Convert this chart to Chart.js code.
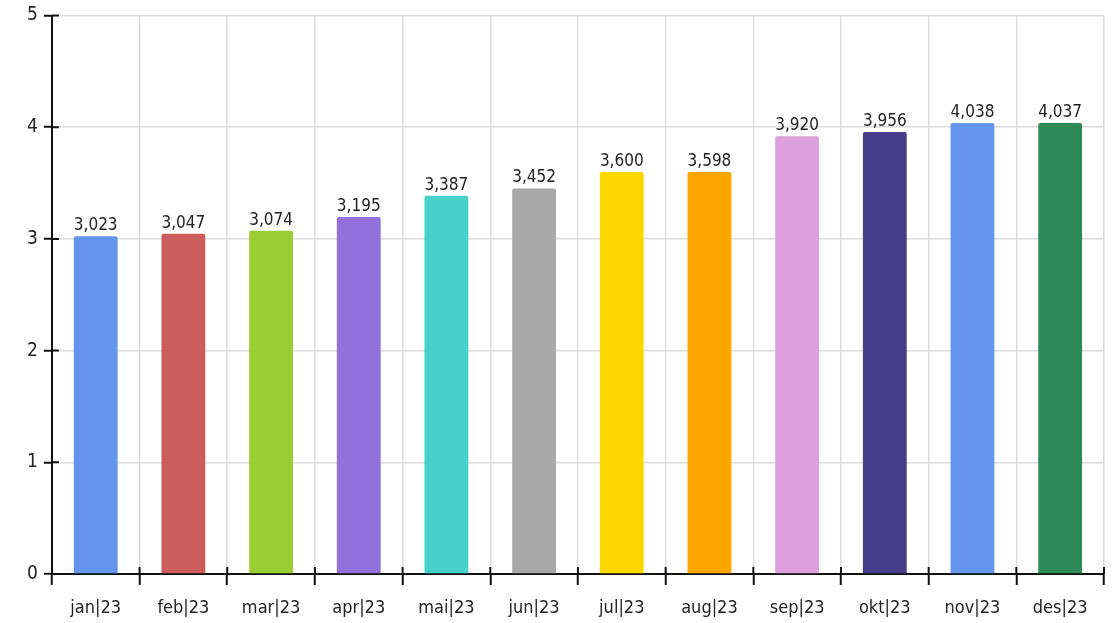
<!DOCTYPE html>
<html>
<head>
<meta charset="utf-8">
<script src="https://cdn.jsdelivr.net/npm/chart.js@4"></script>
<style>
  html, body { margin: 0; padding: 0; background: #fff; }
  #wrap { width: 1114px; height: 623px; }
</style>
</head>
<body>
<div id="wrap"><canvas id="bar_chart"></canvas></div>
<script>
const months = ['jan|23', 'feb|23', 'mar|23', 'apr|23', 'mai|23', 'jun|23', 'jul|23', 'aug|23', 'sep|23', 'okt|23', 'nov|23', 'des|23'];
const values = [3.023, 3.047, 3.074, 3.195, 3.387, 3.452, 3.600, 3.598, 3.920, 3.956, 4.038, 4.037];
const barColors = ['#6495ED', '#CD5C5C', '#9ACD32', '#9370DB', '#48D1CC', '#A9A9A9', '#FFD700', '#FFA500', '#DDA0DD', '#483D8B', '#6495ED', '#2E8B57'];

const fontFamily = "'Liberation Sans Narrow', 'DejaVu Sans Condensed', 'Open Sans', sans-serif";

// value labels above each bar, with comma as decimal mark
const valueLabels = {
    id: 'valueLabels',
    afterDatasetsDraw(chart) {
        const c = chart.ctx;
        const meta = chart.getDatasetMeta(0);
        c.save();
        c.font = '17px ' + fontFamily;
        c.fillStyle = '#222';
        c.textAlign = 'center';
        c.textBaseline = 'bottom';
        meta.data.forEach(function (bar, i) {
            c.fillText(values[i].toFixed(3).replace('.', ','), bar.x, bar.y - 2);
        });
        c.restore();
    }
};

// short inner parts of the tick marks (the axes cross their ticks)
const innerTicks = {
    id: 'innerTicks',
    afterDraw(chart) {
        const c = chart.ctx;
        const xs = chart.scales.x, ys = chart.scales.y;
        const area = chart.chartArea;
        c.save();
        c.strokeStyle = '#111';
        c.lineWidth = 2;
        c.beginPath();
        ys.ticks.forEach(function (t) {
            const y = ys.getPixelForValue(t.value);
            c.moveTo(area.left, y);
            c.lineTo(area.left + 7, y);
        });
        for (let i = 1; i <= months.length; i++) {
            const x = area.left + (area.right - area.left) * i / months.length;
            c.moveTo(x, area.bottom);
            c.lineTo(x, area.bottom - 7);
        }
        c.stroke();
        c.restore();
    }
};

const ctx = document.getElementById('bar_chart').getContext('2d');
new Chart(ctx, {
    type: 'bar',
    data: {
        labels: months,
        datasets: [{
            data: values,
            backgroundColor: barColors,
            borderWidth: 0,
            borderRadius: 2,
            barPercentage: 0.5,
            categoryPercentage: 1.0
        }]
    },
    options: {
        responsive: true,
        maintainAspectRatio: false,
        animation: false,
        layout: {
            padding: { top: 0, left: 21, right: 10, bottom: -8 }
        },
        plugins: {
            legend: { display: false },
            tooltip: { enabled: false }
        },
        scales: {
            x: {
                grid: {
                    color: '#dcdcdc',
                    lineWidth: 1.5,
                    tickColor: '#111',
                    tickLength: 11,
                    tickWidth: 2
                },
                border: { color: '#111', width: 2 },
                ticks: {
                    color: '#222',
                    padding: 14,
                    font: { family: fontFamily, size: 18, lineHeight: 1 }
                }
            },
            y: {
                min: 0,
                max: 5,
                grid: {
                    color: '#dcdcdc',
                    lineWidth: 1.5,
                    tickColor: '#111',
                    tickLength: 8,
                    tickWidth: 2
                },
                border: { color: '#111', width: 2 },
                ticks: {
                    stepSize: 1,
                    color: '#222',
                    padding: 6,
                    font: { family: fontFamily, size: 19, lineHeight: 1 }
                }
            }
        }
    },
    plugins: [valueLabels, innerTicks]
});
</script>
</body>
</html>
